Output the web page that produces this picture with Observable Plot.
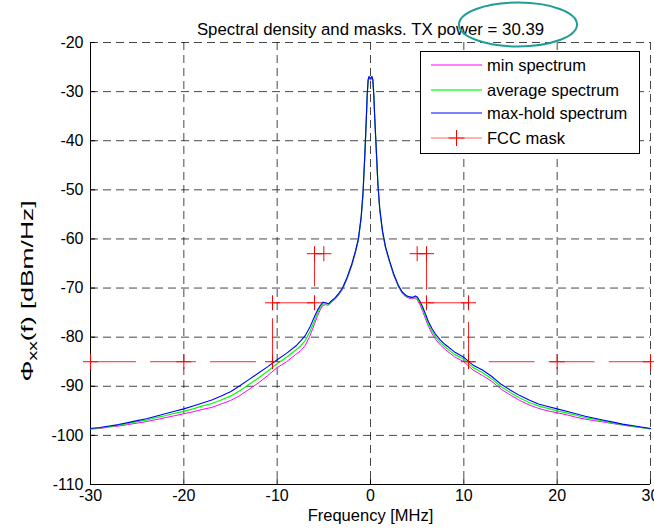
<!DOCTYPE html>
<html><head><meta charset="utf-8">
<script src="https://cdn.jsdelivr.net/npm/d3@7"></script>
<script src="https://cdn.jsdelivr.net/npm/@observablehq/plot@0.6"></script>
<style>
html,body{margin:0;padding:0;background:#fff;}
#chart{width:654px;height:531px;overflow:hidden;}
</style></head><body><div id="chart"></div>
<script>
const titleText = "Spectral density and masks. TX power = 30.39";
const xLabel = "Frequency [MHz]";
const yLabelMain = "Φ", yLabelSub = "xx", yLabelRest = "(f) [dBm/Hz]";
const xTicks = [-30, -20, -10, 0, 10, 20, 30];
const yTicks = [-20, -30, -40, -50, -60, -70, -80, -90, -100, -110];

const freq = [-30,-29,-28,-27,-26,-25,-24,-23,-22,-21,-20,-19,-18,-17,-16,-15,-14,-13,-12,-11,-10,-9,-8,
  -7.5,-7,-6.5,-6,-5.7,-5.4,-5.1,-4.8,-4.5,-4.2,-3.8,-3.4,-3.0,-2.5,-2.0,-1.6,-1.3,-1.0,-0.8,-0.6,-0.45,-0.35,-0.25,-0.15,-0.05,
  0.05,0.15,0.25,0.35,0.45,0.6,0.8,1.0,1.3,1.6,2.0,2.5,3.0,3.4,3.8,4.2,4.5,4.8,5.0,5.3,5.6,5.9,6.2,6.6,7,7.5,8,
  9,10,11,12,13,14,15,16,17,18,19,20,21,22,23,24,25,26,27,28,29,30];

const minSpectrum = [-98.7,-98.6,-98.3,-98.1,-97.8,-97.5,-97.2,-96.8,-96.4,-96.0,-95.6,-95.2,-94.7,-94.3,-93.6,-92.9,-91.9,-90.6,-89.3,-87.8,-86.2,-85.0,-83.5,
  -82.8,-81.7,-79.8,-77.3,-75.8,-74.5,-73.5,-73.4,-73.5,-72.9,-72.3,-71.4,-70.3,-68.1,-65.4,-62.7,-60.3,-55.8,-50.8,-42.8,-35.8,-30.8,-27.8,-27.2,-27.6,
  -27.6,-27.2,-27.8,-30.8,-35.3,-41.3,-49.3,-54.3,-58.8,-61.8,-64.5,-67.5,-69.8,-71.1,-71.8,-72.1,-72.2,-72.0,-72.4,-73.4,-74.8,-76.3,-77.8,-79.3,-80.5,-81.6,-82.5,
  -84.0,-85.0,-86.7,-87.8,-89.0,-90.6,-91.8,-92.9,-93.8,-94.5,-95.0,-95.4,-95.8,-96.3,-96.7,-97.0,-97.3,-97.6,-97.9,-98.2,-98.4,-98.7];

const avgSpectrum = [-98.6,-98.5,-98.2,-97.9,-97.6,-97.2,-96.9,-96.4,-96.0,-95.5,-95.1,-94.6,-94.0,-93.5,-92.8,-92.0,-90.9,-89.6,-88.3,-86.9,-85.4,-84.1,-82.6,
  -81.8,-80.7,-78.9,-76.6,-75.2,-74.0,-73.2,-73.2,-73.3,-72.7,-72.1,-71.2,-70.1,-67.9,-65.2,-62.5,-60.1,-55.6,-50.6,-42.6,-35.6,-30.6,-27.6,-27.0,-27.4,
  -27.4,-27.0,-27.6,-30.6,-35.1,-41.1,-49.1,-54.1,-58.6,-61.6,-64.3,-67.3,-69.6,-70.9,-71.6,-71.9,-72.0,-71.8,-72.1,-73.0,-74.3,-75.8,-77.3,-78.8,-80.0,-81.1,-82.0,
  -83.5,-84.5,-86.2,-87.2,-88.5,-90.1,-91.3,-92.4,-93.3,-94.0,-94.5,-95.0,-95.4,-95.9,-96.4,-96.7,-97.1,-97.5,-97.8,-98.1,-98.4,-98.6];

const maxSpectrum = [-98.6,-98.4,-98.1,-97.8,-97.4,-97.0,-96.6,-96.1,-95.6,-95.1,-94.6,-94.0,-93.4,-92.8,-92.0,-91.1,-89.9,-88.6,-87.3,-86.0,-84.6,-83.3,-81.8,
  -80.8,-79.7,-78.0,-75.8,-74.6,-73.6,-72.9,-73.0,-73.2,-72.6,-72.0,-71.1,-70.0,-67.8,-65.1,-62.4,-60.0,-55.5,-50.5,-42.5,-35.5,-30.5,-27.5,-26.9,-27.3,
  -27.3,-26.9,-27.5,-30.5,-35.0,-41.0,-49.0,-54.0,-58.5,-61.5,-64.2,-67.2,-69.5,-70.8,-71.5,-71.8,-71.9,-71.6,-71.8,-72.7,-73.9,-75.3,-76.8,-78.3,-79.5,-80.6,-81.5,
  -83.0,-84.1,-85.7,-86.7,-88.0,-89.6,-90.8,-91.9,-92.8,-93.6,-94.1,-94.6,-95.1,-95.6,-96.1,-96.5,-96.9,-97.3,-97.7,-98.0,-98.3,-98.6];

const maskLeftFreq = [-30, -20, -10.5, -10.5, -6, -6, -5];
const maskLeftLevel = [-85, -85, -85, -73, -73, -63, -63];
const maskRightFreq = [5, 6, 6, 10.5, 10.5, 20, 30];
const maskRightLevel = [-63, -63, -73, -73, -85, -85, -85];

const seriesNames = ["min spectrum", "average spectrum", "max-hold spectrum", "FCC mask"];
const seriesColors = ["#ff00ff", "#00ff00", "#0000ff", "#ff0000"];

const toRows = (vals) => freq.map((f, i) => ({f, v: vals[i]}));
const minRows = toRows(minSpectrum), avgRows = toRows(avgSpectrum), maxRows = toRows(maxSpectrum);
const maskL = maskLeftFreq.map((f, i) => ({f, v: maskLeftLevel[i]}));
const maskR = maskRightFreq.map((f, i) => ({f, v: maskRightLevel[i]}));

const plusSymbol = {
  draw(ctx, size) {
    const r = Math.sqrt(size / Math.PI);
    ctx.moveTo(-r, 0); ctx.lineTo(r, 0);
    ctx.moveTo(0, -r); ctx.lineTo(0, r);
  }
};

const fmt = d => String(d);
const gridStyle = {stroke: "#000", strokeOpacity: 0.72, strokeDasharray: "8,5"};

const svg = Plot.plot({
  width: 654,
  height: 531,
  marginLeft: 90,
  marginRight: 4,
  marginTop: 42,
  marginBottom: 47,
  style: {fontFamily: "'Liberation Sans', Arial, sans-serif", fontSize: "16px", color: "#000", background: "#fff"},
  x: {domain: [-30, 30], ticks: xTicks, tickFormat: fmt, tickSize: 0, tickPadding: 5, label: null},
  y: {domain: [-110, -20], ticks: yTicks, tickFormat: fmt, tickSize: 0, tickPadding: 7, label: null},
  marks: [
    Plot.ruleX(xTicks, gridStyle),
    Plot.ruleY(yTicks, gridStyle),
    Plot.ruleX([xTicks[0]], {stroke: "#000"}),
    Plot.ruleY([yTicks[yTicks.length - 1]], {stroke: "#000"}),
    Plot.ruleY(yTicks, {x1: -30, x2: -29.45, stroke: "#000"}),
    Plot.ruleX(xTicks, {y1: -110, y2: -109, stroke: "#000"}),
    Plot.line(minRows, {x: "f", y: "v", stroke: seriesColors[0], strokeWidth: 1}),
    Plot.line(avgRows, {x: "f", y: "v", stroke: seriesColors[1], strokeWidth: 1.2}),
    Plot.line(maxRows, {x: "f", y: "v", stroke: seriesColors[2], strokeWidth: 1.1}),
    Plot.line(maskL, {x: "f", y: "v", stroke: seriesColors[3], strokeWidth: 1, strokeDasharray: "45,15", strokeOpacity: 0.85}),
    Plot.line(maskR, {x: "f", y: "v", stroke: seriesColors[3], strokeWidth: 1, strokeDasharray: "45,15", strokeOpacity: 0.85}),
    Plot.dot(maskL.concat(maskR), {x: "f", y: "v", symbol: plusSymbol, r: 7.5, stroke: seriesColors[3], fill: "none", strokeWidth: 1}),
    Plot.text([titleText], {frameAnchor: "top", dy: -19, fontSize: 16.8, fill: "#000"}),
    Plot.text([xLabel], {frameAnchor: "bottom", dy: 36, fontSize: 16.5, fill: "#000"})
  ]
});

const s = d3.select(svg);
// y label with subscript
const yl = s.append("text")
  .attr("transform", "translate(33,291) rotate(-90) scale(1.6,1)")
  .attr("text-anchor", "middle")
  .attr("font-size", 16.5)
  .attr("fill", "#000");
yl.append("tspan").text(yLabelMain);
yl.append("tspan").attr("font-size", 12).attr("dy", 4).text(yLabelSub);
yl.append("tspan").attr("dy", -4).text(yLabelRest);

// legend
const lg = s.append("g").attr("text-anchor", "start");
lg.append("rect").attr("x", 420.5).attr("y", 51.5).attr("width", 219).attr("height", 102)
  .attr("fill", "#fff").attr("stroke", "#000").attr("stroke-width", 1);
const rowY = [65, 90, 113, 138];
seriesNames.forEach((name, i) => {
  const y = rowY[i];
  lg.append("line").attr("x1", 431).attr("x2", 482).attr("y1", y).attr("y2", y)
    .attr("stroke", seriesColors[i]).attr("stroke-width", i === 1 ? 2 : 1)
    .attr("stroke-opacity", i === 3 ? 0.6 : (i === 1 ? 0.6 : 1));
  if (i === 3) {
    lg.append("path").attr("d", `M${456.5-8},${y}H${456.5+8}M456.5,${y-8}V${y+8}`)
      .attr("stroke", seriesColors[i]).attr("fill", "none");
  }
  lg.append("text").attr("x", 487).attr("y", y).attr("dy", "0.35em")
    .attr("text-anchor", "start")
    .attr("font-size", 16.5).attr("fill", "#000").text(name);
});

// highlight ellipse annotation around the TX power value
s.append("ellipse").attr("cx", 518).attr("cy", 24.5).attr("rx", 59).attr("ry", 22)
  .attr("fill", "none").attr("stroke", "#1d9e97").attr("stroke-width", 2);

document.getElementById("chart").appendChild(svg);
</script>
</body></html>
